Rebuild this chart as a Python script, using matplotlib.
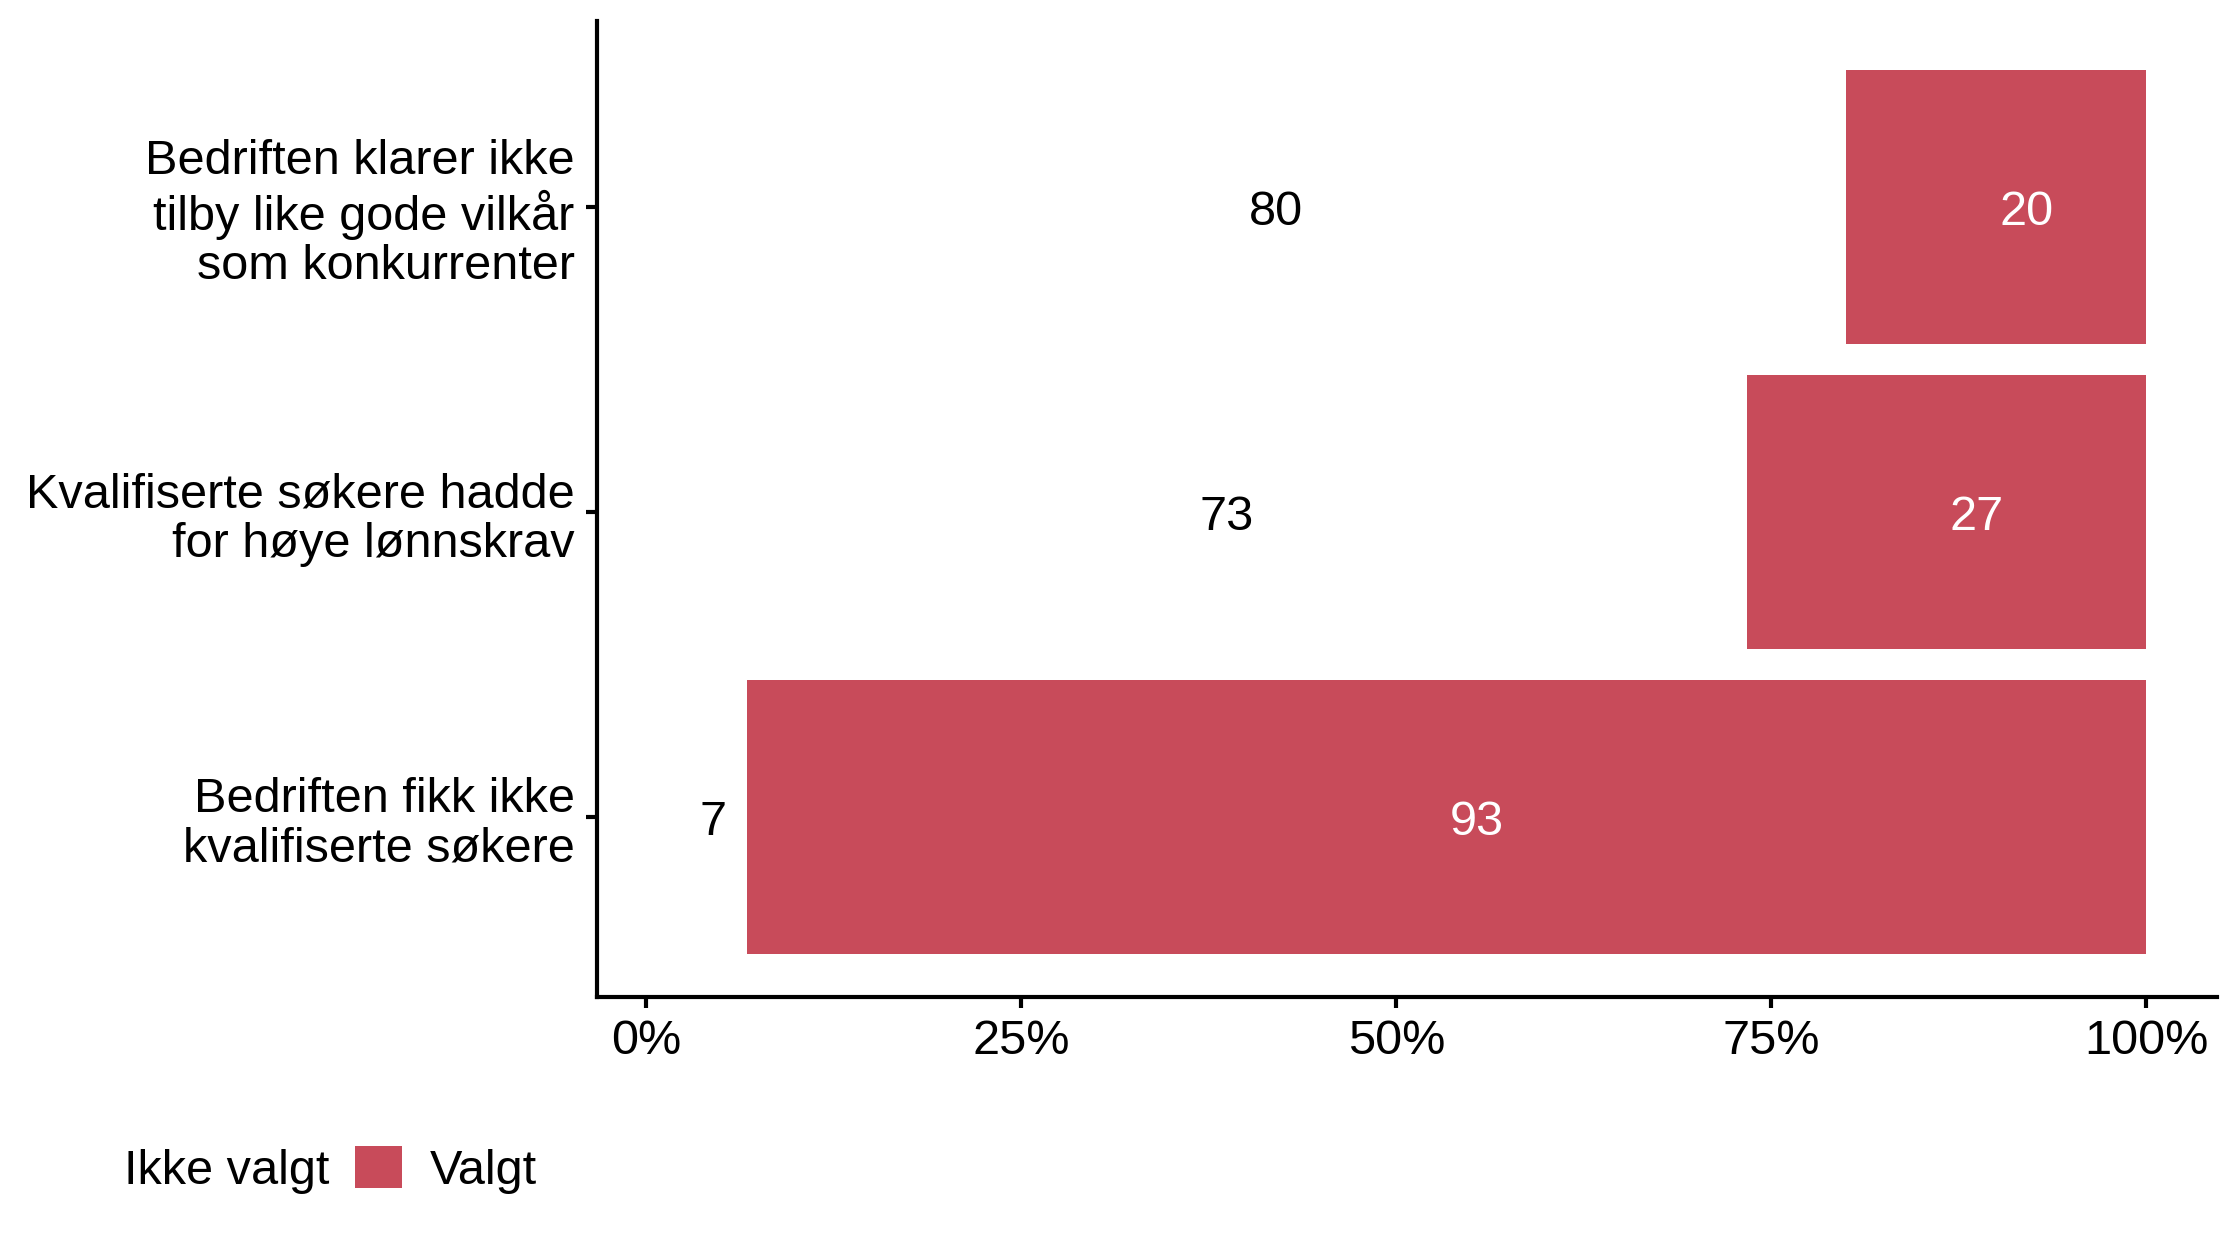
import matplotlib.pyplot as plt
from matplotlib.patches import Patch

plt.rcParams['font.family'] = ['Liberation Sans', 'DejaVu Sans']

# data
categories = ['Bedriften fikk ikke\nkvalifiserte søkere',
              'Kvalifiserte søkere hadde\nfor høye lønnskrav',
              'Bedriften klarer ikke\ntilby like gode vilkår\nsom konkurrenter']
ikke_valgt = [6.7, 73.4, 80.0]
valgt = [93.3, 26.6, 20.0]
ticks = [0, 25, 50, 75, 100]
tick_labels = ['0%', '25%', '50%', '75%', '100%']

red = '#C84B5A'
fs = 35

fig = plt.figure(figsize=(22.4, 12.38), dpi=100)
ax = fig.add_axes([0.2665, 0.1947, 0.9897 - 0.2665, 0.983 - 0.1947])

y = [1, 2, 3]
ax.barh(y, ikke_valgt, height=0.9, color='white')
ax.barh(y, valgt, left=ikke_valgt, height=0.9, color=red)

# labels (left anchored at segment middle, as in the original)
for yi, a, b in zip(y, ikke_valgt, valgt):
    ax.annotate(f'{a:.0f}', (a / 2, yi), xytext=(2, -4), textcoords='offset points',
                ha='left', va='center', fontsize=fs, color='black')
    ax.annotate(f'{b:.0f}', (a + b / 2, yi), xytext=(2, -4), textcoords='offset points',
                ha='left', va='center', fontsize=fs, color='white')

ax.set_xlim(-3.3, 104.7)
ax.set_ylim(0.41, 3.61)
ax.set_yticks(y)
ax.set_yticklabels(categories, fontsize=fs, linespacing=1.13)
ax.set_xticks(ticks)
ax.set_xticklabels(tick_labels, fontsize=fs)

for s in ['top', 'right']:
    ax.spines[s].set_visible(False)
for s in ['left', 'bottom']:
    ax.spines[s].set_linewidth(3)
ax.tick_params(axis='both', width=3, length=8, pad=8)

handles = [Patch(facecolor='white', edgecolor='none', label='Ikke valgt'),
           Patch(facecolor=red, edgecolor='none', label='Valgt')]
fig.legend(handles=handles, loc='center left', bbox_to_anchor=(50 / 2240, 0.055),
           ncol=2, frameon=False, fontsize=fs, handlelength=0.97, handleheight=0.97,
           handletextpad=0.56, columnspacing=0.52, borderpad=0, borderaxespad=0)

fig.savefig('out.png', dpi=100)
